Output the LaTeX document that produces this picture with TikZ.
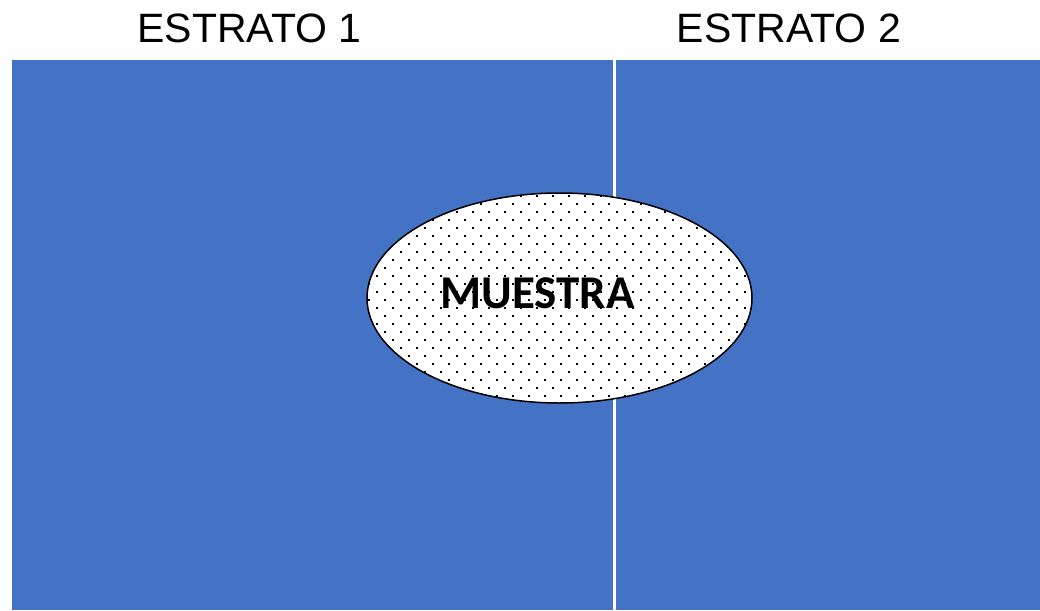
\documentclass[tikz,border=0pt]{standalone}
\usepackage{fontspec}
\setmainfont{Liberation Sans}
\newfontfamily\calfont{Carlito}
\usetikzlibrary{shapes.geometric}
\definecolor{stratblue}{HTML}{4472C4}
\tikzset{
  stratum/.style={fill=stratblue, draw=none},
  title/.style={font=\fontsize{41}{48}\selectfont, anchor=base, inner sep=0pt},
  sample/.style={ellipse, draw=black, line width=1.5pt, fill=none, inner sep=0pt,
    minimum width=385pt, minimum height=210pt},
  samplelabel/.style={font=\calfont\bfseries\fontsize{47}{52}\selectfont, anchor=base, inner sep=0pt},
  dot/.style={fill=black}
}
\begin{document}
\begin{tikzpicture}[x=1pt,y=-1pt]
\useasboundingbox (0,0) rectangle (1040,610);
\fill[white] (0,0) rectangle (1040,610);
\fill[stratum] (12,60) rectangle (613,610);
\fill[stratum] (616,60) rectangle (1040,610);
\node[title] (t1) at (249.5,42) {ESTRATO 1};
\node[title] (t2) at (789,42) {ESTRATO 2};
\begin{scope}
  \clip (559.5,298) ellipse [x radius=192.5, y radius=105];
  \fill[white] (559.5,298) ellipse [x radius=192.5, y radius=105];
  \foreach \i in {-14,...,34}{
    \foreach \j in {-18,...,9}{
      \pgfmathtruncatemacro{\dotparity}{mod(\i+\j+100,2)}
      \ifnum\dotparity=0
        \fill[dot] ({481+8*\i-1},{332+8*\j-1}) rectangle ++(2,2);
      \fi
    }
  }
\end{scope}
\node[sample] (m) at (559.5,298) {};
\node[samplelabel] (ml) at (537.5,308) {MUESTRA};
\end{tikzpicture}
\end{document}
